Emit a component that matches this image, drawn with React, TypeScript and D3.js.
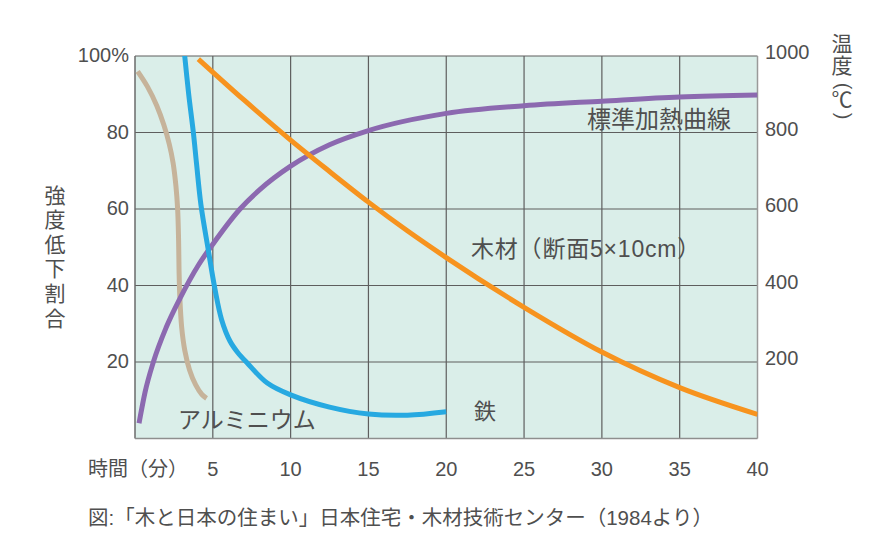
import React from "react";
import * as d3 from "d3";

// time (min) ticks
const xTicks = [5, 10, 15, 20, 25, 30, 35, 40];
const xGrid = [5, 10, 15, 20, 25, 30, 35];
const yTicks = [20, 40, 60, 80, 100];
const yTickLabels = ["20", "40", "60", "80", "100%"];
const yRightTicks = [200, 400, 600, 800, 1000];

// strength reduction ratio (%) vs time (min)
const aluminium: [number, number][] = [
  [0.17, 96], [0.8, 92], [1.4, 87], [1.85, 82], [2.2, 77], [2.45, 72], [2.63, 66],
  [2.74, 60], [2.8, 52], [2.83, 44], [2.88, 37], [3.0, 29], [3.2, 23], [3.5, 18],
  [3.9, 14], [4.3, 11.5], [4.6, 10.5],
];
const iron: [number, number][] = [
  [3.17, 101], [3.45, 90], [3.75, 80], [3.95, 72], [4.24, 61], [4.7, 49.5], [5.14, 39],
  [5.57, 31], [6.1, 25.5], [6.6, 22.5], [7.2, 19.8], [8.5, 14.5], [10, 11.4], [12.5, 8.2],
  [15, 6.4], [17.5, 6.1], [20, 7],
];
const wood: [number, number][] = [
  [4.07, 99.2], [7, 88.5], [10, 78], [12.5, 69.8], [15, 61.8], [17.5, 54.3], [20, 47.3],
  [25, 34.3], [30, 22.6], [35, 13.3], [40, 6.3],
];
// standard heating curve (°C)
const heating: [number, number][] = [
  [0.26, 40], [0.64, 120], [1.18, 200], [2.0, 290], [2.9, 367], [4.1, 455], [5, 508],
  [6.75, 600], [8, 650], [10, 712], [12.5, 768], [15, 805], [20, 850], [25, 870],
  [30, 882], [35, 893], [40, 898],
];

const FONT = "'Liberation Sans', Arial, 'Noto Sans CJK JP', sans-serif";
const TEXT = "#4f4f4f";

export default function App() {
  const left = 135, right = 757.5, top = 56, bottom = 438.5;
  const x = d3.scaleLinear().domain([0, 40]).range([left, right]);
  const y = d3.scaleLinear().domain([0, 100]).range([bottom, top]);
  const yR = d3.scaleLinear().domain([0, 1000]).range([bottom, top]);

  const lineL = d3.line<[number, number]>().x((d) => x(d[0])).y((d) => y(d[1])).curve(d3.curveCatmullRom.alpha(0.5));
  const lineM = d3.line<[number, number]>().x((d) => x(d[0])).y((d) => y(d[1])).curve(d3.curveMonotoneX);
  const lineH = d3.line<[number, number]>().x((d) => x(d[0])).y((d) => yR(d[1])).curve(d3.curveMonotoneX);

  const leftTitle = "強度低下割合".split("");

  return (
    <svg width={886} height={555} style={{ position: "absolute", left: 0, top: 0, background: "#fff" }} fontFamily={FONT}>
      <defs>
        <clipPath id="plot">
          <rect x={left} y={top} width={right - left} height={bottom - top} />
        </clipPath>
      </defs>
      <rect x={left} y={top} width={right - left} height={bottom - top} fill="#daeee9" />
      {xGrid.map((t) => (
        <line key={"xg" + t} x1={x(t)} x2={x(t)} y1={top} y2={bottom} stroke="#5e5e5e" strokeWidth={1.2} />
      ))}
      {yTicks.map((v) => (
        <line key={"yg" + v} x1={left} x2={right} y1={y(v)} y2={y(v)} stroke="#5e5e5e" strokeWidth={1.2} />
      ))}
      <line x1={left} x2={left} y1={top} y2={bottom} stroke="#6a6a6a" strokeWidth={1.5} />
      <line x1={right} x2={right} y1={top} y2={bottom} stroke="#9a9a9a" strokeWidth={1.5} />
      <line x1={left} x2={right} y1={bottom} y2={bottom} stroke="#8e8e8e" strokeWidth={1.5} />

      <g clipPath="url(#plot)" fill="none" strokeWidth={5} strokeLinecap="butt">
        <path d={lineL(aluminium) || ""} stroke="#c6b39a" />
        <path d={lineH(heating) || ""} stroke="#8c69b0" />
        <path d={lineL(iron) || ""} stroke="#27a9e1" />
        <path d={lineM(wood) || ""} stroke="#f7931e" />
      </g>

      {/* left tick labels */}
      {yTicks.map((v, i) => (
        <text key={"yl" + v} x={129} y={y(v) + 1} dominantBaseline="middle" textAnchor="end" fontSize={20} fill={TEXT}>
          {yTickLabels[i]}
        </text>
      ))}
      {/* right tick labels */}
      {yRightTicks.map((v) => (
        <text key={"yr" + v} x={765} y={yR(v) - 2} dominantBaseline="middle" textAnchor="start" fontSize={20} fill={TEXT}>
          {v}
        </text>
      ))}
      {/* x tick labels */}
      {xTicks.map((t) => (
        <text key={"xl" + t} x={x(t)} y={476} textAnchor="middle" fontSize={20} fill={TEXT}>
          {t}
        </text>
      ))}
      <text x={88} y={476} fontSize={20} fill={TEXT}>時間（分）</text>

      {/* axis titles */}
      {leftTitle.map((c, i) => (
        <text key={"lt" + i} x={55} y={197 + i * 24.6} textAnchor="middle" dominantBaseline="middle" fontSize={21} fill={TEXT}>
          {c}
        </text>
      ))}
      <text x={842} y={45} textAnchor="middle" dominantBaseline="middle" fontSize={21} fill={TEXT}>温</text>
      <text x={842} y={67} textAnchor="middle" dominantBaseline="middle" fontSize={21} fill={TEXT}>度</text>
      <text transform="translate(842,86) rotate(90)" textAnchor="middle" dominantBaseline="middle" fontSize={20} fill={TEXT}>(</text>
      <text x={842} y={101} textAnchor="middle" dominantBaseline="middle" fontSize={21} fill={TEXT}>℃</text>
      <text transform="translate(842,116) rotate(90)" textAnchor="middle" dominantBaseline="middle" fontSize={20} fill={TEXT}>)</text>

      {/* series labels */}
      <text x={178} y={428} fontSize={23} fill={TEXT}>アルミニウム</text>
      <text x={474} y={419} fontSize={22} fill={TEXT}>鉄</text>
      <text x={471} y={257} fontSize={23} letterSpacing={0.8} fill={TEXT}>木材（断面5×10cm）</text>
      <text x={587} y={128} fontSize={24} fill={TEXT}>標準加熱曲線</text>

      <text x={88} y={525} fontSize={20.5} fill={TEXT}>図:「木と日本の住まい」日本住宅・木材技術センター（1984より）</text>
    </svg>
  );
}
